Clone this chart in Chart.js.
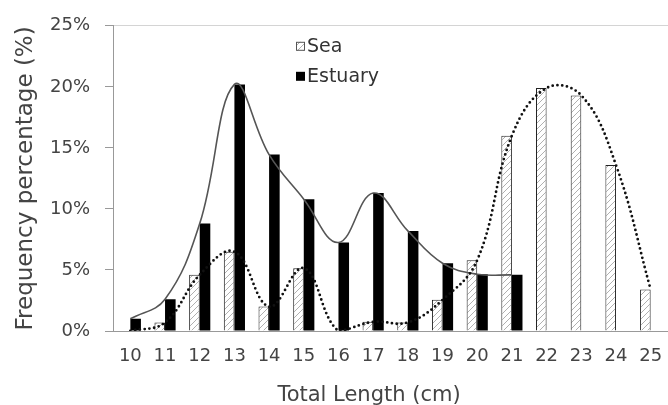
<!DOCTYPE html>
<html>
<head>
<meta charset="utf-8">
<script src="https://cdn.jsdelivr.net/npm/chart.js@4"></script>
<style>
  html, body { margin: 0; padding: 0; background: #fff; }
  #wrap { width: 668px; height: 405px; }
</style>
</head>
<body>
<div id="wrap"><canvas id="chart"></canvas></div>
<script>
// data
const lengths = ['10', '11', '12', '13', '14', '15', '16', '17', '18', '19', '20', '21', '22', '23', '24', '25'];
const seaValues = [0, 0.7, 4.6, 6.5, 2.0, 5.15, 0, 0.75, 0.7, 2.55, 5.8, 16.0, 19.9, 19.3, 13.6, 3.4];
const estuaryValues = [1.0, 2.6, 8.8, 20.2, 14.45, 10.8, 7.25, 11.3, 8.2, 5.55, 4.65, 4.6, null, null, null, null];
const yTicks = [0, 5, 10, 15, 20, 25];

const FONT = "'DejaVu Sans', sans-serif";
const TEXT = '#444';

// diagonal hatch for the Sea bars
function hatch() {
    const c = document.createElement('canvas');
    c.width = 6; c.height = 6;
    const g = c.getContext('2d');
    g.fillStyle = '#fff';
    g.fillRect(0, 0, 6, 6);
    g.strokeStyle = '#b0b0b0';
    g.lineWidth = 1;
    g.beginPath();
    g.moveTo(0, 6); g.lineTo(6, 0);
    g.moveTo(-1, 1); g.lineTo(1, -1);
    g.moveTo(5, 7); g.lineTo(7, 5);
    g.stroke();
    return g.createPattern(c, 'repeat');
}
const seaFill = hatch();

// legend inside plot + x axis title
const extras = {
    id: 'extras',
    afterDraw(chart) {
        const { ctx, chartArea } = chart;
        ctx.save();
        const lx = chartArea.left + 183;
        const ly = chartArea.top + 16;
        ctx.font = '19px ' + FONT;
        ctx.textBaseline = 'middle';
        // Sea
        ctx.fillStyle = seaFill;
        ctx.fillRect(lx, ly, 9, 9);
        ctx.strokeStyle = '#555';
        ctx.lineWidth = 1;
        ctx.strokeRect(lx + 0.5, ly + 0.5, 8, 8);
        ctx.fillStyle = '#333';
        ctx.fillText(chart.data.datasets[0].label, lx + 11, ly + 5);
        // Estuary
        ctx.fillStyle = '#000';
        ctx.fillRect(lx, ly + 30, 9, 9);
        ctx.fillStyle = '#333';
        ctx.fillText(chart.data.datasets[1].label, lx + 11, ly + 35);
        // x title
        ctx.font = '21px ' + FONT;
        ctx.fillStyle = TEXT;
        ctx.textAlign = 'center';
        ctx.fillText('Total Length (cm)', chartArea.left + 256, chartArea.bottom + 65);
        ctx.restore();
    }
};

new Chart(document.getElementById('chart'), {
    type: 'bar',
    data: {
        labels: lengths,
        datasets: [
            {
                label: 'Sea',
                data: seaValues,
                backgroundColor: seaFill,
                borderColor: '#222',
                borderWidth: 1,
                borderSkipped: 'start',
                categoryPercentage: 0.61,
                barPercentage: 1.0,
                order: 2
            },
            {
                label: 'Estuary',
                data: estuaryValues,
                backgroundColor: '#000',
                borderWidth: 0,
                categoryPercentage: 0.61,
                barPercentage: 1.0,
                order: 2
            },
            {
                type: 'line',
                label: 'Sea trend',
                data: seaValues,
                borderColor: '#111',
                borderWidth: 2.8,
                borderDash: [0, 4.8],
                borderCapStyle: 'round',
                pointRadius: 0,
                tension: 0.4,
                fill: false,
                order: 0
            },
            {
                type: 'line',
                label: 'Estuary trend',
                data: estuaryValues,
                borderColor: '#555',
                borderWidth: 1.6,
                pointRadius: 0,
                tension: 0.4,
                fill: false,
                spanGaps: false,
                order: 1
            }
        ]
    },
    options: {
        responsive: true,
        maintainAspectRatio: false,
        animation: false,
        layout: { padding: { top: 22, right: 0, bottom: 0, left: 0 } },
        plugins: {
            legend: { display: false },
            tooltip: { enabled: false }
        },
        scales: {
            x: {
                grid: { display: false, drawTicks: false },
                border: { display: true, color: '#999', width: 1 },
                ticks: { color: TEXT, font: { family: FONT, size: 18 }, padding: 15, maxRotation: 0, autoSkip: false },
                afterFit: s => { s.height = 74; s.paddingLeft = 0; s.paddingRight = 0; }
            },
            y: {
                min: 0,
                max: 25,
                afterBuildTicks: s => { s.ticks = yTicks.map(v => ({ value: v })); },
                grid: {
                    color: c => (c.tick && c.tick.value === 25 ? '#d4d4d4' : 'rgba(0,0,0,0)'),
                    tickColor: '#999',
                    tickLength: 8,
                    drawOnChartArea: true
                },
                border: { display: true, color: '#999', width: 1 },
                ticks: {
                    color: TEXT,
                    font: { family: FONT, size: 18 },
                    padding: 15,
                    callback: v => v + '%'
                },
                title: {
                    display: true,
                    text: 'Frequency percentage (%)',
                    color: TEXT,
                    font: { family: FONT, size: 23 },
                    padding: { top: 12, bottom: 0 }
                },
                afterFit: s => { s.width = 113; }
            }
        }
    },
    plugins: [extras]
});
</script>
</body>
</html>
